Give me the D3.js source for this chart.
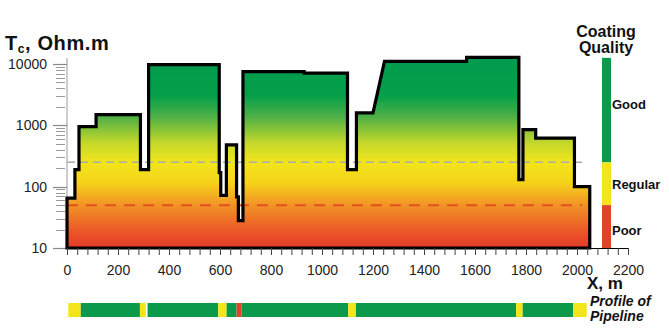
<!DOCTYPE html>
<html>
<head>
<meta charset="utf-8">
<script src="https://cdn.jsdelivr.net/npm/d3@7"></script>
<style>
  body { margin: 0; background: #fff; }
  svg { display: block; font-family: "Liberation Sans", Arial, Helvetica, sans-serif; }
</style>
</head>
<body>
<svg id="chart" width="669" height="329"></svg>
<script>
// coating resistance profile, vertices of the outline (distance m / Ohm.m)
const profileX = [0, 0, 31, 31, 47, 47, 114, 114, 288, 288, 320, 320, 597, 597, 603, 603,
  625, 625, 665, 665, 672, 672, 690, 690, 930, 930, 1100, 1100, 1135, 1135, 1200, 1245,
  1567, 1567, 1772, 1772, 1788, 1788, 1838, 1838, 1990, 1990, 2050, 2050]
const profileR = [10, 65, 65, 190, 190, 950, 950, 1500, 1500, 190, 190, 9800, 9800, 170, 170, 72,
  72, 480, 480, 68, 68, 28, 28, 7500, 7500, 7100, 7100, 190, 190, 1600, 1600, 11000,
  11000, 12800, 12800, 130, 130, 850, 850, 620, 620, 100, 100, 10]

// coating quality along the pipeline
const pipeFrom = [5, 54, 286, 316, 593, 626, 665, 685, 1103, 1133, 1761, 1787, 1985]
const pipeTo = [54, 286, 309, 593, 626, 665, 685, 1103, 1133, 1761, 1787, 1985, 2038]
const pipeQuality = ['Regular', 'Good', 'Regular', 'Good', 'Regular', 'Good', 'Poor', 'Good',
  'Regular', 'Good', 'Regular', 'Good', 'Regular']

// legend classes and their limits (Ohm.m)
const qualityNames = ['Good', 'Regular', 'Poor']
const qualityTop = [12600, 250, 50]
const qualityBottom = [250, 50, 10]
const goodLimit = 250
const poorLimit = 50

const yMajor = [10, 100, 1000, 10000]
const xTicks = d3.range(0, 2201, 40)
const xEnd = 2200

const colors = { Good: '#0b9a4b', Regular: '#f2e61b', Poor: '#e2412b' }

var svg = d3.select('#chart')

var x = d3.scaleLinear().domain([0, xEnd]).range([67, 628]),
    y = d3.scaleLog().domain([10, 10000]).range([248, 64])

// gradient behind the profile
var stops = [[10, '#e3392a'], [20, '#ec5a28'], [50, '#f29326'], [115, '#f6d21a'],
  [245, '#f2e51b'], [515, '#c5d82a'], [1370, '#4fb047'], [3000, '#06a04a'], [10000, '#009b4c']]
var grad = svg.append('defs').append('linearGradient')
    .attr('id', 'fillGrad')
    .attr('gradientUnits', 'userSpaceOnUse')
    .attr('x1', 0).attr('x2', 0)
    .attr('y1', y(10)).attr('y2', y(10000))
grad.selectAll('stop').data(stops).enter().append('stop')
    .attr('offset', d => (y(10) - y(d[0])) / (y(10) - y(10000)))
    .attr('stop-color', d => d[1])

// title
var title = svg.append('text')
    .attr('x', 5).attr('y', 50)
    .attr('font-size', 20).attr('font-weight', 'bold').attr('fill', '#111')
    .attr('letter-spacing', 0.6)
title.append('tspan').text('T')
title.append('tspan').text('c').attr('font-size', 12).attr('dy', 3)
title.append('tspan').text(', Ohm.m').attr('dy', -3)

// y axis
svg.append('line')
    .attr('x1', 67).attr('x2', 67).attr('y1', 58).attr('y2', 248)
    .attr('stroke', '#aaa').attr('stroke-width', 1.2)

var minor = []
yMajor.slice(0, 3).forEach(d => { for (let k = 2; k < 10; k++) minor.push(d * k) })

svg.append('g').selectAll('line').data(minor).enter().append('line')
    .attr('x1', 56).attr('x2', 65)
    .attr('y1', d => Math.round(y(d)) + 0.5).attr('y2', d => Math.round(y(d)) + 0.5)
    .attr('stroke', '#999').attr('stroke-width', 1)

svg.append('g').selectAll('line').data(yMajor).enter().append('line')
    .attr('x1', 53).attr('x2', 67)
    .attr('y1', d => Math.round(y(d)) + 0.5).attr('y2', d => Math.round(y(d)) + 0.5)
    .attr('stroke', '#888').attr('stroke-width', 1.2)

svg.append('g').selectAll('text').data(yMajor).enter().append('text')
    .attr('x', 47).attr('y', d => y(d) + 5)
    .attr('text-anchor', 'end').attr('font-size', 14).attr('fill', '#222')
    .text(d => d)

// profile area
var pts = profileX.map((d, i) => [d, profileR[i]])
var line = d3.line().x(d => x(d[0])).y(d => y(d[1]))

svg.append('path')
    .attr('d', line(pts) + 'Z')
    .attr('fill', 'url(#fillGrad)')

// threshold lines
svg.append('line')
    .attr('x1', x(0)).attr('x2', x(2020))
    .attr('y1', y(goodLimit)).attr('y2', y(goodLimit))
    .attr('stroke', '#aaa').attr('stroke-width', 1.3)
    .attr('stroke-dasharray', '8,5')

svg.append('line')
    .attr('x1', x(0)).attr('x2', x(2020))
    .attr('y1', y(poorLimit)).attr('y2', y(poorLimit))
    .attr('stroke', '#e2501f').attr('stroke-width', 2)
    .attr('stroke-dasharray', '11,8')

svg.append('path')
    .attr('d', line(pts) + 'Z')
    .attr('fill', 'none')
    .attr('stroke', '#000').attr('stroke-width', 3.2)
    .attr('stroke-linejoin', 'miter')

// x axis
var xAxis = d3.axisBottom(x)
    .tickValues(xTicks)
    .tickSize(7)
    .tickFormat(d => d % 200 === 0 ? d : '')

var gx = svg.append('g')
    .attr('transform', 'translate(0,248)')
    .call(xAxis)
gx.select('.domain').attr('stroke', '#000').attr('d', 'M' + x(0) + ',0.5H' + x(xEnd))
gx.selectAll('.tick line').attr('stroke', '#444')
gx.selectAll('.tick text')
    .attr('y', 17).attr('font-size', 14).attr('fill', '#222')
    .attr('font-family', '"Liberation Sans", Arial, sans-serif')

svg.append('text')
    .attr('x', 587).attr('y', 289)
    .attr('font-size', 17).attr('font-weight', 'bold').attr('fill', '#111')
    .text('X, m')

// legend
svg.append('text')
    .attr('x', 606).attr('y', 37)
    .attr('text-anchor', 'middle').attr('font-size', 16).attr('font-weight', 'bold').attr('fill', '#111')
    .text('Coating')
svg.append('text')
    .attr('x', 606).attr('y', 53)
    .attr('text-anchor', 'middle').attr('font-size', 16).attr('font-weight', 'bold').attr('fill', '#111')
    .text('Quality')

var labelShift = [-6, 0, 3]
var leg = svg.append('g')
leg.selectAll('rect').data(qualityNames).enter().append('rect')
    .attr('x', 602).attr('width', 9)
    .attr('y', (d, i) => y(qualityTop[i]))
    .attr('height', (d, i) => y(qualityBottom[i]) - y(qualityTop[i]))
    .attr('fill', d => colors[d])
leg.selectAll('text').data(qualityNames).enter().append('text')
    .attr('x', 612)
    .attr('y', (d, i) => (y(qualityTop[i]) + y(qualityBottom[i])) / 2 + 5 + labelShift[i])
    .attr('font-size', 13).attr('font-weight', 'bold').attr('fill', '#111')
    .text(d => d)

// pipeline profile bar
svg.append('g').selectAll('rect').data(pipeQuality).enter().append('rect')
    .attr('x', (d, i) => x(pipeFrom[i]))
    .attr('width', (d, i) => x(pipeTo[i]) - x(pipeFrom[i]))
    .attr('y', 303).attr('height', 14)
    .attr('fill', d => colors[d])

svg.append('text')
    .attr('x', 590).attr('y', 306)
    .attr('font-size', 14).attr('font-weight', 'bold').attr('font-style', 'italic').attr('fill', '#111')
    .text('Profile of')
svg.append('text')
    .attr('x', 590).attr('y', 321)
    .attr('font-size', 14).attr('font-weight', 'bold').attr('font-style', 'italic').attr('fill', '#111')
    .text('Pipeline')
</script>
</body>
</html>
